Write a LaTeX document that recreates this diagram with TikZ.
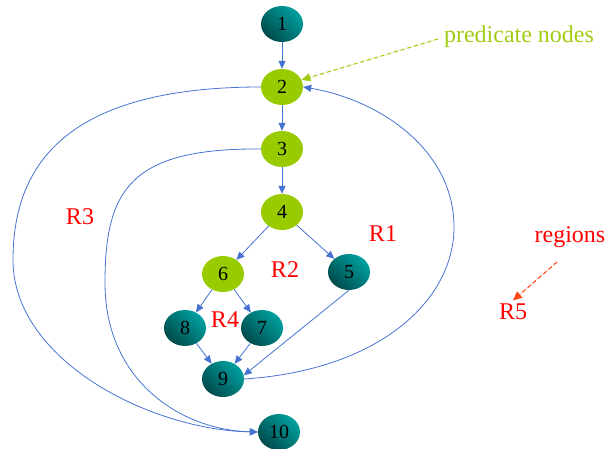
\documentclass[tikz,border=0pt]{standalone}
\usepackage{fontspec}
\setmainfont{Liberation Serif}
\usetikzlibrary{shapes.geometric,arrows.meta}
\definecolor{edgeblue}{RGB}{70,115,210}
\definecolor{predgreen}{RGB}{153,204,0}
\definecolor{labgreen}{RGB}{160,205,20}
\definecolor{tealA}{RGB}{0,160,160}
\definecolor{tealB}{RGB}{0,75,75}
\definecolor{regred}{RGB}{255,0,0}
\definecolor{arrred}{RGB}{255,70,20}
\tikzset{
  gnode/.style={ellipse, minimum width=42pt, minimum height=36pt, inner sep=0pt, draw=none,
    font=\fontsize{20}{22}\selectfont},
  plain/.style={gnode, shading=axis, top color=tealA, bottom color=tealB, shading angle=-45},
  pred/.style={gnode, fill=predgreen},
  edge/.style={draw=edgeblue, line width=0.8pt, -{Triangle[length=8pt,width=7pt]}},
  hint/.style={line width=1.1pt, dash pattern=on 4pt off 3pt, -{Triangle[length=9pt,width=8pt]}},
  reg/.style={text=regred, font=\fontsize{24}{26}\selectfont},
}
\begin{document}
\begin{tikzpicture}[x=1pt,y=-1pt]
\useasboundingbox (0,0) rectangle (608,449);
\node[plain] (n1) at (282,24) {1};
\node[pred] (n2) at (282,87) {2};
\node[pred] (n3) at (282,149) {3};
\node[pred] (n4) at (282,212) {4};
\node[pred] (n6) at (223,274) {6};
\node[plain] (n5) at (349,272) {5};
\node[plain] (n8) at (185,328) {8};
\node[plain] (n7) at (262,328) {7};
\node[plain] (n9) at (223,379) {9};
\node[plain] (n10) at (279,432) {10};

\draw[edge] (n1) -- (n2);
\draw[edge] (n2) -- (n3);
\draw[edge] (n3) -- (n4);
\draw[edge] (n4) -- (n6);
\draw[edge] (n4) -- (n5);
\draw[edge] (n6) -- (n8);
\draw[edge] (n6) -- (n7);
\draw[edge] (n8) -- (n9);
\draw[edge] (n7) -- (n9);
\draw[edge] (n5.south) -- (n9.10);
\draw[edge] (n9.east) .. controls (380,370) and (454,300) .. (454,227)
   .. controls (454,150) and (380,100) .. (n2.east);
\draw[edge] (n2.west) .. controls (60,87) and (13,170) .. (13,260)
   .. controls (13,360) and (150,430) .. (n10.west);
\draw[edge] (n3.west) .. controls (130,148) and (105,190) .. (105,283)
   .. controls (105,380) and (180,430) .. (n10.west);

\node[text=labgreen, font=\fontsize{24}{26}\selectfont] (pn) at (519,37) {predicate nodes};
\coordinate (pnstart) at (438,39);
\draw[draw=labgreen, fill=labgreen, hint] (pnstart) -- (n2.20);

\node[reg] (r1) at (383,234) {R1};
\node[reg] (r2) at (285,270) {R2};
\node[reg] (r3) at (80,217) {R3};
\node[reg] (r4) at (225,320) {R4};
\node[reg] (r5) at (513,312) {R5};
\node[reg] (rg) at (570,237) {regions};
\draw[draw=arrred, fill=arrred, hint] (557,262) -- (r5.north);
\end{tikzpicture}
\end{document}
